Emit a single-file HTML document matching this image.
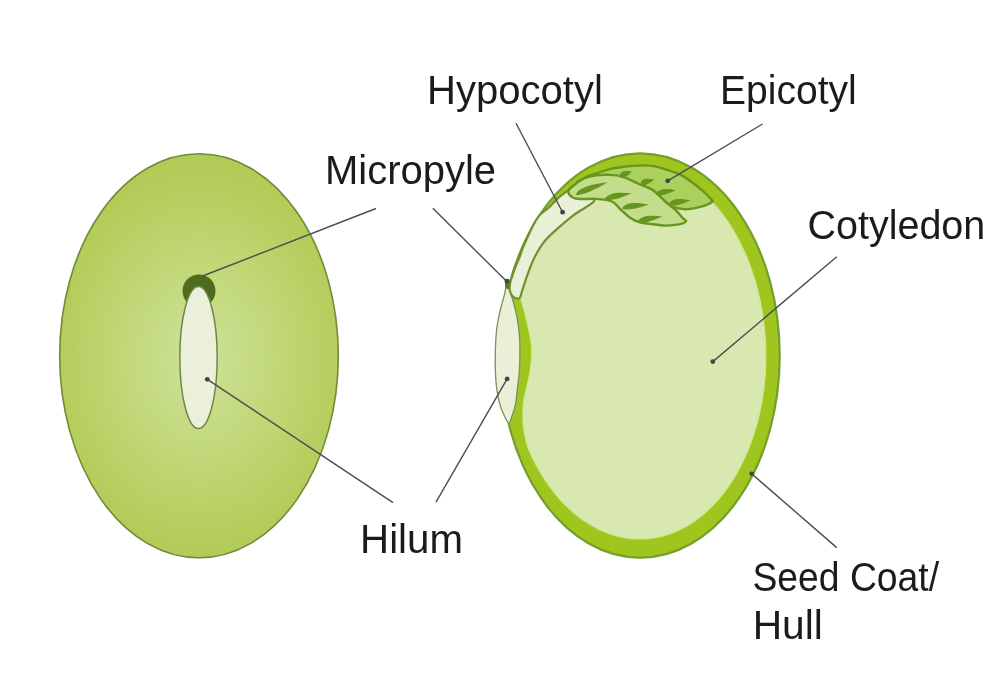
<!DOCTYPE html>
<html><head><meta charset="utf-8"><style>
html,body{margin:0;padding:0;background:#fff;width:1000px;height:675px;overflow:hidden}
svg{display:block}
svg{will-change:transform}
text{font-family:"Liberation Sans",sans-serif;font-size:39.8px;fill:#1c1b1b}
</style></head><body>
<svg width="1000" height="675" viewBox="0 0 1000 675">
<defs>
<radialGradient id="lg" cx="200" cy="360" r="190" gradientUnits="userSpaceOnUse" gradientTransform="translate(200 360) scale(1 1.25) translate(-200 -360)">
<stop offset="0" stop-color="#cee29a"/><stop offset="0.35" stop-color="#c3d97d"/><stop offset="0.75" stop-color="#b4cd5b"/><stop offset="1" stop-color="#aec850"/>
</radialGradient>
</defs>
<ellipse cx="199" cy="355.8" rx="139.3" ry="202" fill="url(#lg)" stroke="#708c37" stroke-width="1.6"/>
<circle cx="199" cy="291" r="16.5" fill="#4e6c1c"/>
<ellipse cx="198.5" cy="357.5" rx="18.7" ry="71" fill="#eaf0d9" stroke="#71874a" stroke-width="1.5"/>
<ellipse cx="640.1" cy="355.5" rx="139.6" ry="202.2" fill="#9fc51f" stroke="#72a02a" stroke-width="2.2"/>
<path d="M507.0,283.0 C506.2,283.7 505.7,289.5 504.5,294.4 C503.3,299.3 501.1,306.3 499.8,312.2 C498.5,318.1 497.3,323.7 496.6,330.0 C495.9,336.3 495.6,343.1 495.4,350.0 C495.2,356.9 495.2,365.1 495.4,371.7 C495.6,378.3 496.1,384.2 496.8,389.4 C497.5,394.6 498.4,399.0 499.5,403.0 C500.6,407.0 501.8,410.2 503.3,413.5 C504.8,416.8 507.1,422.6 508.5,423.0 C509.9,423.4 510.9,419.0 512.0,416.0 C513.1,413.0 514.5,409.4 515.4,405.0 C516.3,400.6 516.6,394.9 517.3,389.4 C517.9,383.8 518.9,378.3 519.3,371.7 C519.7,365.1 519.9,356.2 519.9,350.0 C519.9,343.8 519.8,339.9 519.3,334.4 C518.8,328.8 518.0,322.5 516.9,316.7 C515.8,310.9 513.8,303.9 512.6,299.5 C511.4,295.1 510.4,292.8 509.5,290.0 C508.6,287.2 507.8,282.3 507.0,283.0Z" fill="#eaf0d7" stroke="#7f8f5a" stroke-width="1.3"/>
<path d="M592.0,202.0 C594.7,197.0 589.2,189.6 590.0,185.0 C590.8,180.4 593.7,177.0 597.0,174.5 C600.3,172.0 606.0,171.2 610.0,170.2 C614.0,169.1 617.2,168.8 621.0,168.2 C624.8,167.6 629.0,167.2 633.0,166.9 C637.0,166.6 641.2,166.3 645.0,166.4 C648.8,166.5 652.2,166.8 656.0,167.6 C659.8,168.4 663.6,169.5 668.0,171.0 C672.4,172.5 678.0,174.4 682.2,176.6 C686.4,178.8 690.0,181.8 693.3,184.3 C696.6,186.8 698.4,187.7 702.2,191.4 C706.0,195.1 712.5,202.6 715.8,206.3 C719.1,210.1 720.0,211.3 722.0,213.9 C724.0,216.5 725.9,219.2 727.8,222.0 C729.7,224.8 731.5,227.7 733.2,230.6 C735.0,233.5 736.7,236.6 738.3,239.7 C740.0,242.8 741.6,245.9 743.1,249.2 C744.6,252.4 746.0,255.7 747.4,259.0 C748.7,262.4 750.0,265.8 751.2,269.3 C752.5,272.8 753.6,276.3 754.7,279.8 C755.8,283.4 756.8,287.0 757.7,290.7 C758.6,294.3 759.4,298.0 760.2,301.7 C761.0,305.5 761.7,309.2 762.3,313.0 C762.9,316.8 763.4,320.6 763.8,324.4 C764.3,328.2 764.6,332.0 764.9,335.9 C765.2,339.7 765.4,343.6 765.5,347.5 C765.7,351.3 765.7,355.2 765.6,359.0 C765.6,362.9 765.5,366.8 765.3,370.6 C765.1,374.4 764.8,378.3 764.4,382.1 C764.0,385.9 763.6,389.7 763.0,393.4 C762.5,397.2 761.9,400.9 761.2,404.6 C760.5,408.3 759.7,412.0 758.9,415.6 C758.0,419.3 757.1,422.9 756.1,426.4 C755.1,429.9 754.0,433.4 752.8,436.9 C751.7,440.3 750.5,443.7 749.2,447.0 C747.9,450.3 746.5,453.6 745.0,456.8 C743.6,460.0 742.1,463.1 740.5,466.2 C738.9,469.2 737.3,472.2 735.6,475.1 C733.9,478.0 732.1,480.8 730.3,483.6 C728.5,486.3 726.6,489.0 724.6,491.5 C722.7,494.1 720.7,496.6 718.6,499.0 C716.6,501.3 714.5,503.6 712.3,505.8 C710.2,508.0 708.0,510.1 705.7,512.1 C703.5,514.1 701.2,516.0 698.9,517.7 C696.6,519.5 694.2,521.2 691.8,522.8 C689.4,524.3 686.9,525.8 684.5,527.1 C682.0,528.5 679.5,529.7 677.0,530.8 C674.5,531.9 671.9,533.0 669.4,533.8 C666.8,534.7 664.2,535.5 661.6,536.2 C659.0,536.8 656.4,537.3 653.7,537.8 C651.1,538.2 648.5,538.5 645.8,538.7 C643.2,538.8 640.5,538.9 637.8,538.8 C635.2,538.8 632.5,538.6 629.9,538.3 C627.2,538.0 624.6,537.6 621.9,537.0 C619.3,536.5 616.7,535.9 614.1,535.1 C611.5,534.3 608.9,533.4 606.3,532.4 C603.7,531.4 601.1,530.3 598.6,529.1 C596.1,527.8 593.6,526.5 591.1,525.0 C588.6,523.6 586.1,522.0 583.7,520.3 C581.3,518.7 578.9,516.9 576.6,515.0 C574.2,513.1 571.9,511.1 569.7,509.0 C567.4,506.9 565.2,504.7 563.0,502.5 C560.8,500.2 558.7,497.8 556.6,495.3 C554.6,492.8 552.5,490.3 550.6,487.6 C548.6,485.0 546.7,482.2 544.8,479.4 C543.0,476.6 542.1,475.6 539.4,470.7 C536.8,465.8 531.5,456.3 529.0,450.0 C526.5,443.7 525.4,438.0 524.4,432.6 C523.4,427.2 523.1,423.2 523.0,417.8 C522.9,412.4 523.2,405.4 523.9,400.0 C524.6,394.6 526.3,390.1 527.4,385.2 C528.5,380.3 529.6,375.8 530.4,370.4 C531.1,365.0 531.8,357.6 531.9,352.6 C532.0,347.7 531.8,345.6 531.0,340.7 C530.2,335.8 528.5,327.9 527.4,323.0 C526.3,318.1 525.5,314.7 524.5,311.0 C523.5,307.3 522.0,303.8 521.5,301.0 C521.0,298.2 521.0,296.8 521.5,294.0 C522.0,291.2 523.2,287.8 524.2,284.4 C525.2,281.0 526.3,277.8 527.8,273.8 C529.3,269.8 531.2,264.5 533.1,260.4 C535.0,256.2 537.2,252.3 539.3,248.9 C541.4,245.5 542.8,243.2 545.6,240.0 C548.4,236.8 551.6,233.8 556.3,229.6 C561.0,225.4 568.0,219.4 574.0,214.8 C580.0,210.2 589.3,207.0 592.0,202.0Z" fill="#d9e7b0" stroke="#d0e994" stroke-width="1.4"/>
<path d="M517.7,298.6 C516.7,298.6 515.2,298.3 514.1,297.5 C513.0,296.7 511.8,295.4 511.0,293.9 C510.2,292.4 509.7,290.8 509.6,288.7 C509.5,286.6 510.1,283.1 510.6,281.0 C511.1,278.9 511.7,278.0 512.4,275.8 C513.1,273.6 513.9,270.9 515.0,268.0 C516.1,265.1 517.6,262.2 519.0,258.7 C520.4,255.2 521.6,250.8 523.2,246.9 C524.8,243.0 526.7,238.9 528.5,235.0 C530.3,231.1 532.1,227.1 534.0,223.7 C535.9,220.3 537.5,217.5 540.0,214.8 C542.5,212.1 545.9,210.2 548.9,207.5 C551.9,204.8 554.5,201.3 557.8,198.4 C561.0,195.5 565.7,192.2 568.4,190.1 C571.1,188.0 571.2,185.3 574.0,186.0 C576.8,186.7 581.7,191.5 585.0,194.0 C588.3,196.5 595.8,197.5 594.0,201.0 C592.2,204.5 580.3,210.0 574.0,214.8 C567.7,219.6 561.0,225.4 556.3,229.6 C551.6,233.8 548.4,236.8 545.6,240.0 C542.8,243.2 541.4,245.5 539.3,248.9 C537.2,252.3 535.0,256.2 533.1,260.4 C531.2,264.5 529.3,269.8 527.8,273.8 C526.3,277.8 525.2,281.3 524.2,284.4 C523.2,287.5 522.3,290.3 521.6,292.5 C520.9,294.7 520.6,296.5 520.0,297.5 C519.4,298.5 518.7,298.6 517.7,298.6Z" fill="#eaf0d7" stroke="#6f912e" stroke-width="2.2"/>
<ellipse cx="507.5" cy="284" rx="2.6" ry="5" fill="#5f7a2c"/>
<path d="M575.0,186.0 C575.8,185.6 581.3,179.7 585.0,177.6 C588.7,175.5 592.8,174.6 597.0,173.2 C601.2,171.8 606.0,170.2 610.0,169.2 C614.0,168.2 617.2,167.8 621.0,167.2 C624.8,166.6 629.0,166.2 633.0,165.9 C637.0,165.6 641.2,165.3 645.0,165.4 C648.8,165.5 652.2,165.8 656.0,166.6 C659.8,167.4 663.6,168.5 668.0,170.0 C672.4,171.5 678.0,173.4 682.2,175.6 C686.4,177.8 690.0,180.8 693.3,183.3 C696.6,185.8 699.2,187.7 702.2,190.4 C705.2,193.1 709.5,197.4 711.1,199.3 C712.7,201.2 713.5,200.8 712.0,202.0 C710.5,203.2 706.1,205.2 702.2,206.4 C698.4,207.6 693.0,208.8 688.9,209.1 C684.8,209.4 681.0,209.2 677.3,208.2 C673.6,207.2 670.7,205.9 666.7,202.9 C662.7,199.9 657.8,193.4 653.3,190.4 C648.8,187.4 645.2,187.3 640.0,185.1 C634.8,182.9 628.5,178.6 622.0,177.0 C615.5,175.4 608.0,175.1 601.0,175.6 C594.0,176.1 584.3,178.3 580.0,180.0 C575.7,181.7 574.2,186.4 575.0,186.0Z" fill="#acd05e" stroke="#67961f" stroke-width="2.4"/>
<path d="M568.4,191.0 C568.9,188.9 572.2,186.8 575.0,184.6 C577.8,182.4 581.3,179.6 585.0,178.0 C588.7,176.4 593.2,175.7 597.0,175.2 C600.8,174.7 603.8,174.6 608.0,174.8 C612.2,175.0 616.9,175.0 622.2,176.6 C627.5,178.2 634.8,182.2 640.0,184.5 C645.2,186.8 648.8,187.3 653.3,190.4 C657.8,193.5 663.0,199.6 666.7,202.9 C670.4,206.2 672.9,207.5 675.6,210.0 C678.3,212.5 680.9,216.2 682.7,218.0 C684.5,219.8 686.7,220.1 686.2,221.1 C685.8,222.1 683.2,223.4 680.0,224.2 C676.8,224.9 671.2,225.6 666.7,225.6 C662.2,225.6 657.8,224.7 653.3,224.2 C648.8,223.7 643.8,223.4 640.0,222.4 C636.2,221.4 633.7,220.4 630.4,218.1 C627.1,215.8 623.1,211.6 620.0,208.8 C616.9,206.0 615.9,203.2 611.9,201.5 C607.9,199.8 601.6,199.3 596.3,198.9 C591.0,198.5 584.0,199.3 580.0,199.0 C576.0,198.7 573.9,198.3 572.0,197.0 C570.1,195.7 567.9,193.1 568.4,191.0Z" fill="#c3dd8a" stroke="#67961f" stroke-width="2.4"/>
<path d="M620.0,177.5 C619.0,171.4 624.4,170.4 631.6,171.4 C627.6,176.4 623.2,179.3 620.0,177.5Z" fill="#67961f"/>
<path d="M640.7,184.5 C640.8,178.2 646.7,177.9 654.2,179.7 C649.0,184.2 643.8,186.7 640.7,184.5Z" fill="#67961f"/>
<path d="M656.3,194.5 C658.0,188.1 666.2,188.0 676.0,190.1 C667.7,194.5 659.9,196.8 656.3,194.5Z" fill="#67961f"/>
<path d="M668.8,204.5 C671.0,198.1 680.0,198.2 690.5,200.5 C681.2,204.8 672.6,206.9 668.8,204.5Z" fill="#67961f"/>
<path d="M575.6,195.0 C578.3,187.6 591.7,184.1 607.7,182.3 C594.2,190.4 581.5,196.0 575.6,195.0Z" fill="#67961f"/>
<path d="M604.6,199.4 C607.3,192.7 618.5,191.9 631.6,193.2 C620.0,198.4 609.3,201.5 604.6,199.4Z" fill="#67961f"/>
<path d="M622.0,208.5 C625.2,202.1 636.2,202.2 649.0,204.6 C637.2,208.8 626.5,211.0 622.0,208.5Z" fill="#67961f"/>
<path d="M637.6,222.0 C640.1,215.4 650.4,214.9 662.5,216.5 C651.8,221.4 642.0,224.2 637.6,222.0Z" fill="#67961f"/>
<line x1="202.6" y1="276" x2="375.9" y2="208.5" stroke="#4d4d4d" stroke-width="1.4"/>
<line x1="207.3" y1="379.3" x2="393" y2="502.6" stroke="#4d4d4d" stroke-width="1.4"/>
<line x1="432.8" y1="208.3" x2="507.1" y2="281.8" stroke="#4d4d4d" stroke-width="1.4"/>
<line x1="507.1" y1="378.9" x2="436" y2="502.2" stroke="#4d4d4d" stroke-width="1.4"/>
<line x1="516" y1="123.3" x2="562.6" y2="212.2" stroke="#4d4d4d" stroke-width="1.4"/>
<line x1="667.7" y1="180.8" x2="762.5" y2="124" stroke="#4d4d4d" stroke-width="1.4"/>
<line x1="712.8" y1="361.6" x2="836.8" y2="256.8" stroke="#4d4d4d" stroke-width="1.4"/>
<line x1="751.7" y1="473.8" x2="836.7" y2="547.6" stroke="#4d4d4d" stroke-width="1.4"/>
<circle cx="207.3" cy="379.3" r="2.4" fill="#444"/>
<circle cx="507.1" cy="378.9" r="2.4" fill="#444"/>
<circle cx="562.6" cy="212.2" r="2.4" fill="#444"/>
<circle cx="667.7" cy="180.8" r="2.4" fill="#444"/>
<circle cx="712.8" cy="361.6" r="2.4" fill="#444"/>
<circle cx="751.7" cy="473.8" r="2.4" fill="#444"/>
<circle cx="506.9" cy="281.1" r="2.4" fill="#444"/>
<text x="427.0" y="103.6" textLength="175.8" lengthAdjust="spacingAndGlyphs">Hypocotyl</text>
<text x="720.1" y="103.7" textLength="136.6" lengthAdjust="spacingAndGlyphs">Epicotyl</text>
<text x="325.0" y="184" textLength="171.1" lengthAdjust="spacingAndGlyphs">Micropyle</text>
<text x="807.6" y="239" textLength="177.6" lengthAdjust="spacingAndGlyphs">Cotyledon</text>
<text x="360.1" y="552.7" textLength="102.8" lengthAdjust="spacingAndGlyphs">Hilum</text>
<text x="752.4" y="591.4" textLength="186.7" lengthAdjust="spacingAndGlyphs">Seed Coat/</text>
<text x="752.7" y="639.1" textLength="70.2" lengthAdjust="spacingAndGlyphs">Hull</text>
</svg>
</body></html>
